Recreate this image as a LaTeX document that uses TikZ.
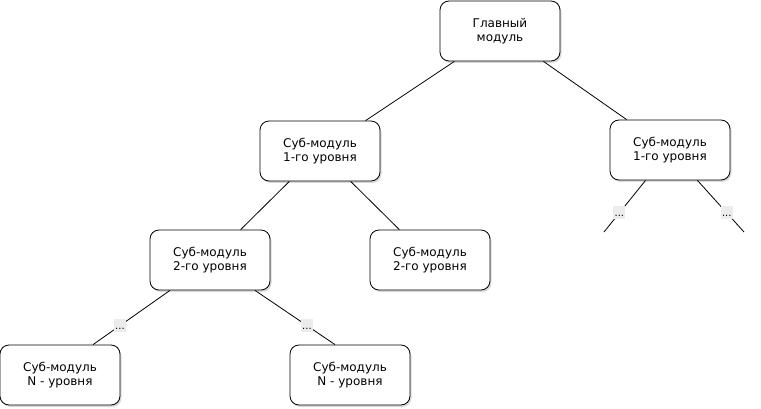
\documentclass[tikz,border=0pt]{standalone}
\usepackage{fontspec}
\setmainfont{DejaVu Sans}
\usetikzlibrary{shadows}
\definecolor{dotgray}{RGB}{236, 236, 236}
\tikzset{
  module/.style={draw, line width=0.8pt, rounded corners=9pt, minimum width=120pt,
    minimum height=60pt, align=center, fill=white,
    font=\fontsize{12}{14}\selectfont,
    drop shadow={shadow xshift=1.5pt, shadow yshift=-2pt, opacity=0.3, fill=gray}},
  dots/.style={fill=dotgray, inner sep=0pt, minimum width=12pt, text height=10pt,
    text depth=3pt, font=\fontsize{10}{12}\selectfont}
}

\begin{document}
\begin{tikzpicture}[x=1pt, y=-1pt]
  \useasboundingbox (0,0) rectangle (761,409);

  \draw[]
   (500,31) node[module](main) {Главный\\модуль}
   (320,151) node[module](sub1) {Суб-модуль\\1-го уровня}
   (670,150) node[module](sub2) {Суб-модуль\\1-го уровня}
   (210,260) node[module](lvl1) {Суб-модуль\\2-го уровня}
   (430,260) node[module](lvl2) {Суб-модуль\\2-го уровня}
   (60,375) node[module](last1) {Суб-модуль\\N - уровня}
   (350,375) node[module](last2) {Суб-модуль\\N - уровня};

  \coordinate (open1) at (604,232);
  \coordinate (open2) at (744,232);

  \draw[line width=0.8pt]
   (main) edge (sub1)
   (main) edge (sub2)
   (sub1) edge (lvl1)
   (sub1) edge (lvl2)
   ([xshift=-40pt]lvl1.south) edge node[dots, pos=0.65] {...} ([xshift=33pt]last1.north)
   ([xshift=45pt]lvl1.south) edge node[dots, pos=0.65] {...} ([xshift=-15pt]last2.north);

  %branches left open
  \draw[line width=0.8pt]
   (sub2) edge node[dots, pos=0.63] {...} (open1)
   (sub2) edge node[dots, pos=0.63] {...} (open2);
\end{tikzpicture}
\end{document}
